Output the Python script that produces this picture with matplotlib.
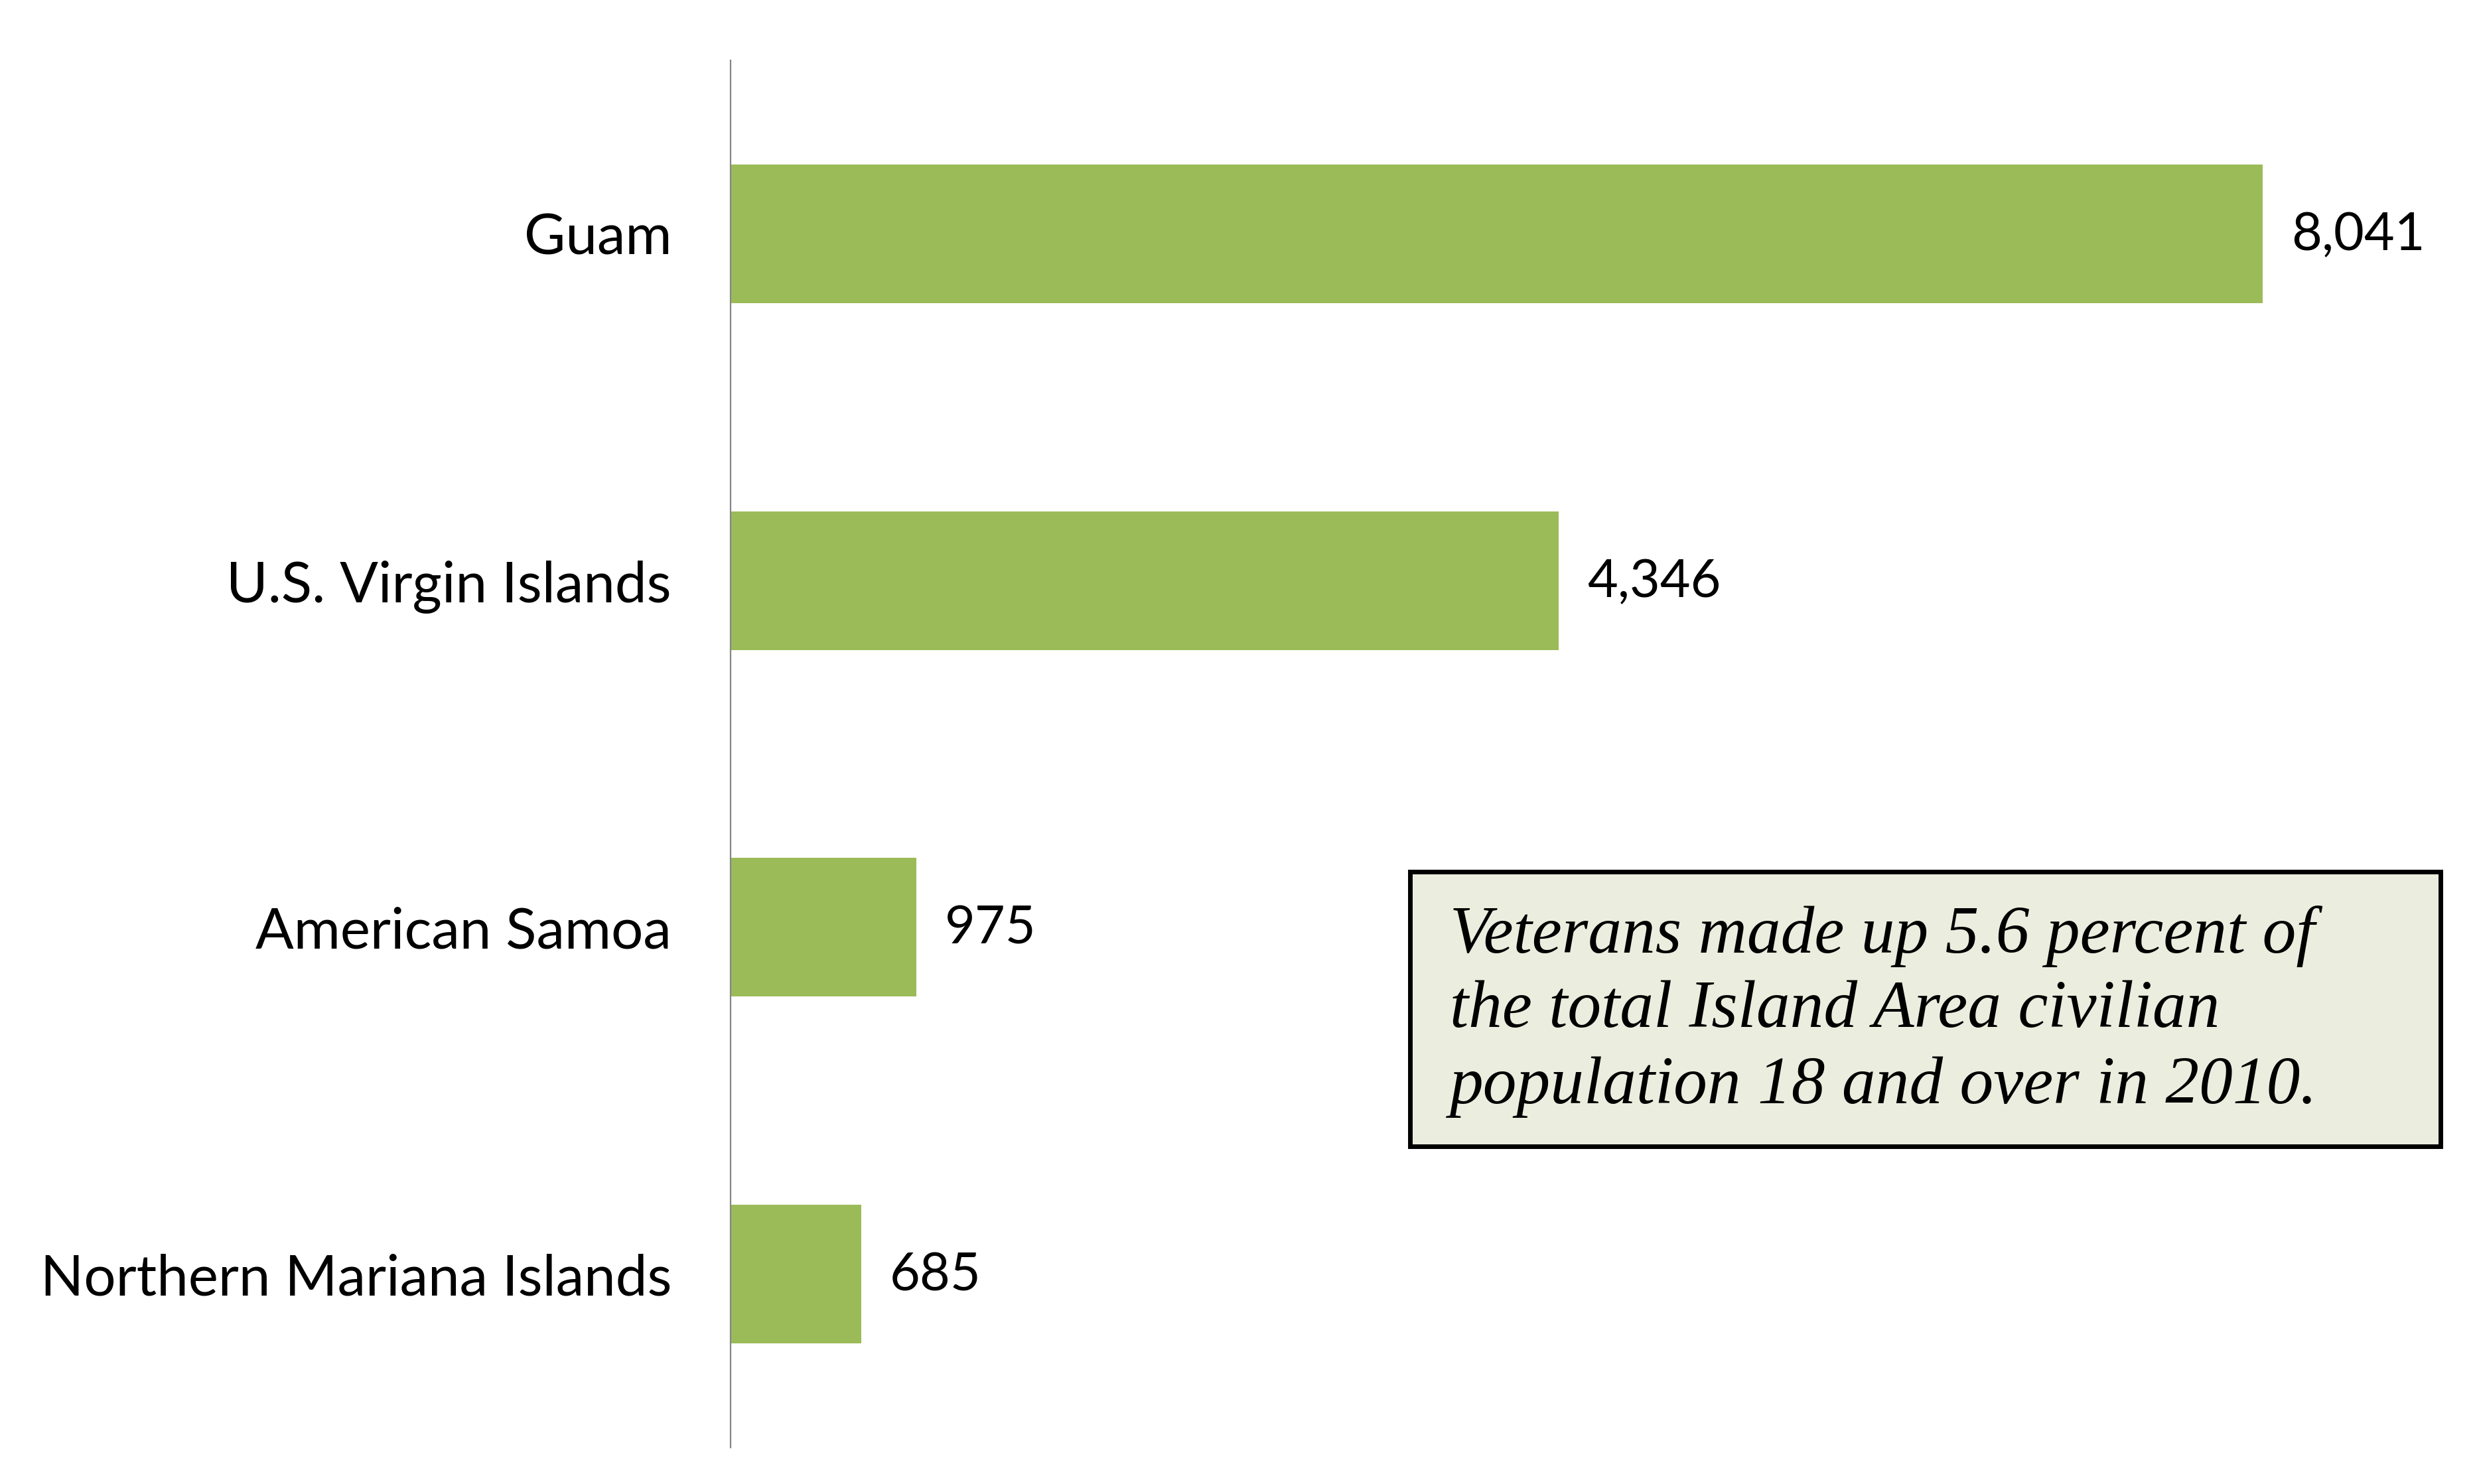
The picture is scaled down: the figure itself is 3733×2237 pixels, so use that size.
import matplotlib
matplotlib.use("Agg")
import matplotlib.pyplot as plt
from matplotlib.patches import Rectangle

# data
islands = ["Guam", "U.S. Virgin Islands", "American Samoa", "Northern Mariana Islands"]
veterans = [8041, 4346, 975, 685]
note_lines = ["Veterans made up 5.6 percent of",
              "the total Island Area civilian",
              "population 18 and over in 2010."]

W, H = 3733, 2237
DPI = 100
fig = plt.figure(figsize=(W / DPI, H / DPI), dpi=DPI)

def fx(px):
    return px / W

def fy(py):
    return 1 - py / H

# axes box: left edge = value axis, spans the four category bands
ax = fig.add_axes([fx(1101), fy(2182), 1 - fx(1101), fy(91) - fy(2182)])

ypos = list(range(len(islands)))
ax.barh(ypos, veterans, height=0.4, color="#9BBB59", edgecolor="none")
ax.set_ylim(len(islands) - 0.5, -0.5)
ax.set_xlim(0, 9166)

ax.set_yticks(ypos)
ax.set_yticklabels(islands, fontsize=61.5, family="Lato", color="#000000")
ax.tick_params(axis="y", length=0, pad=64)
ax.set_xticks([])

for s in ["top", "right", "bottom"]:
    ax.spines[s].set_visible(False)
ax.spines["left"].set_color("#868686")
ax.spines["left"].set_linewidth(1.6)

for y, v in zip(ypos, veterans):
    ax.annotate(f"{v:,}", xy=(v, y), xytext=(31, -2), textcoords="offset points",
                ha="left", va="center", fontsize=57, family="Lato", color="#000000")

# annotation box
box = Rectangle((fx(2125), fy(1728)), fx(3678) - fx(2125), fy(1314) - fy(1728),
                transform=fig.transFigure, facecolor="#EBEEDE", edgecolor="#000000",
                linewidth=5, zorder=3)
fig.patches.append(box)

line_y = [1412, 1524, 1639]
for txt, py in zip(note_lines, line_y):
    fig.text(fx(2185), fy(py), txt, ha="left", va="center", fontsize=73,
             family="Liberation Serif", style="italic", color="#000000", zorder=4)

fig.savefig("out.png", dpi=DPI)
